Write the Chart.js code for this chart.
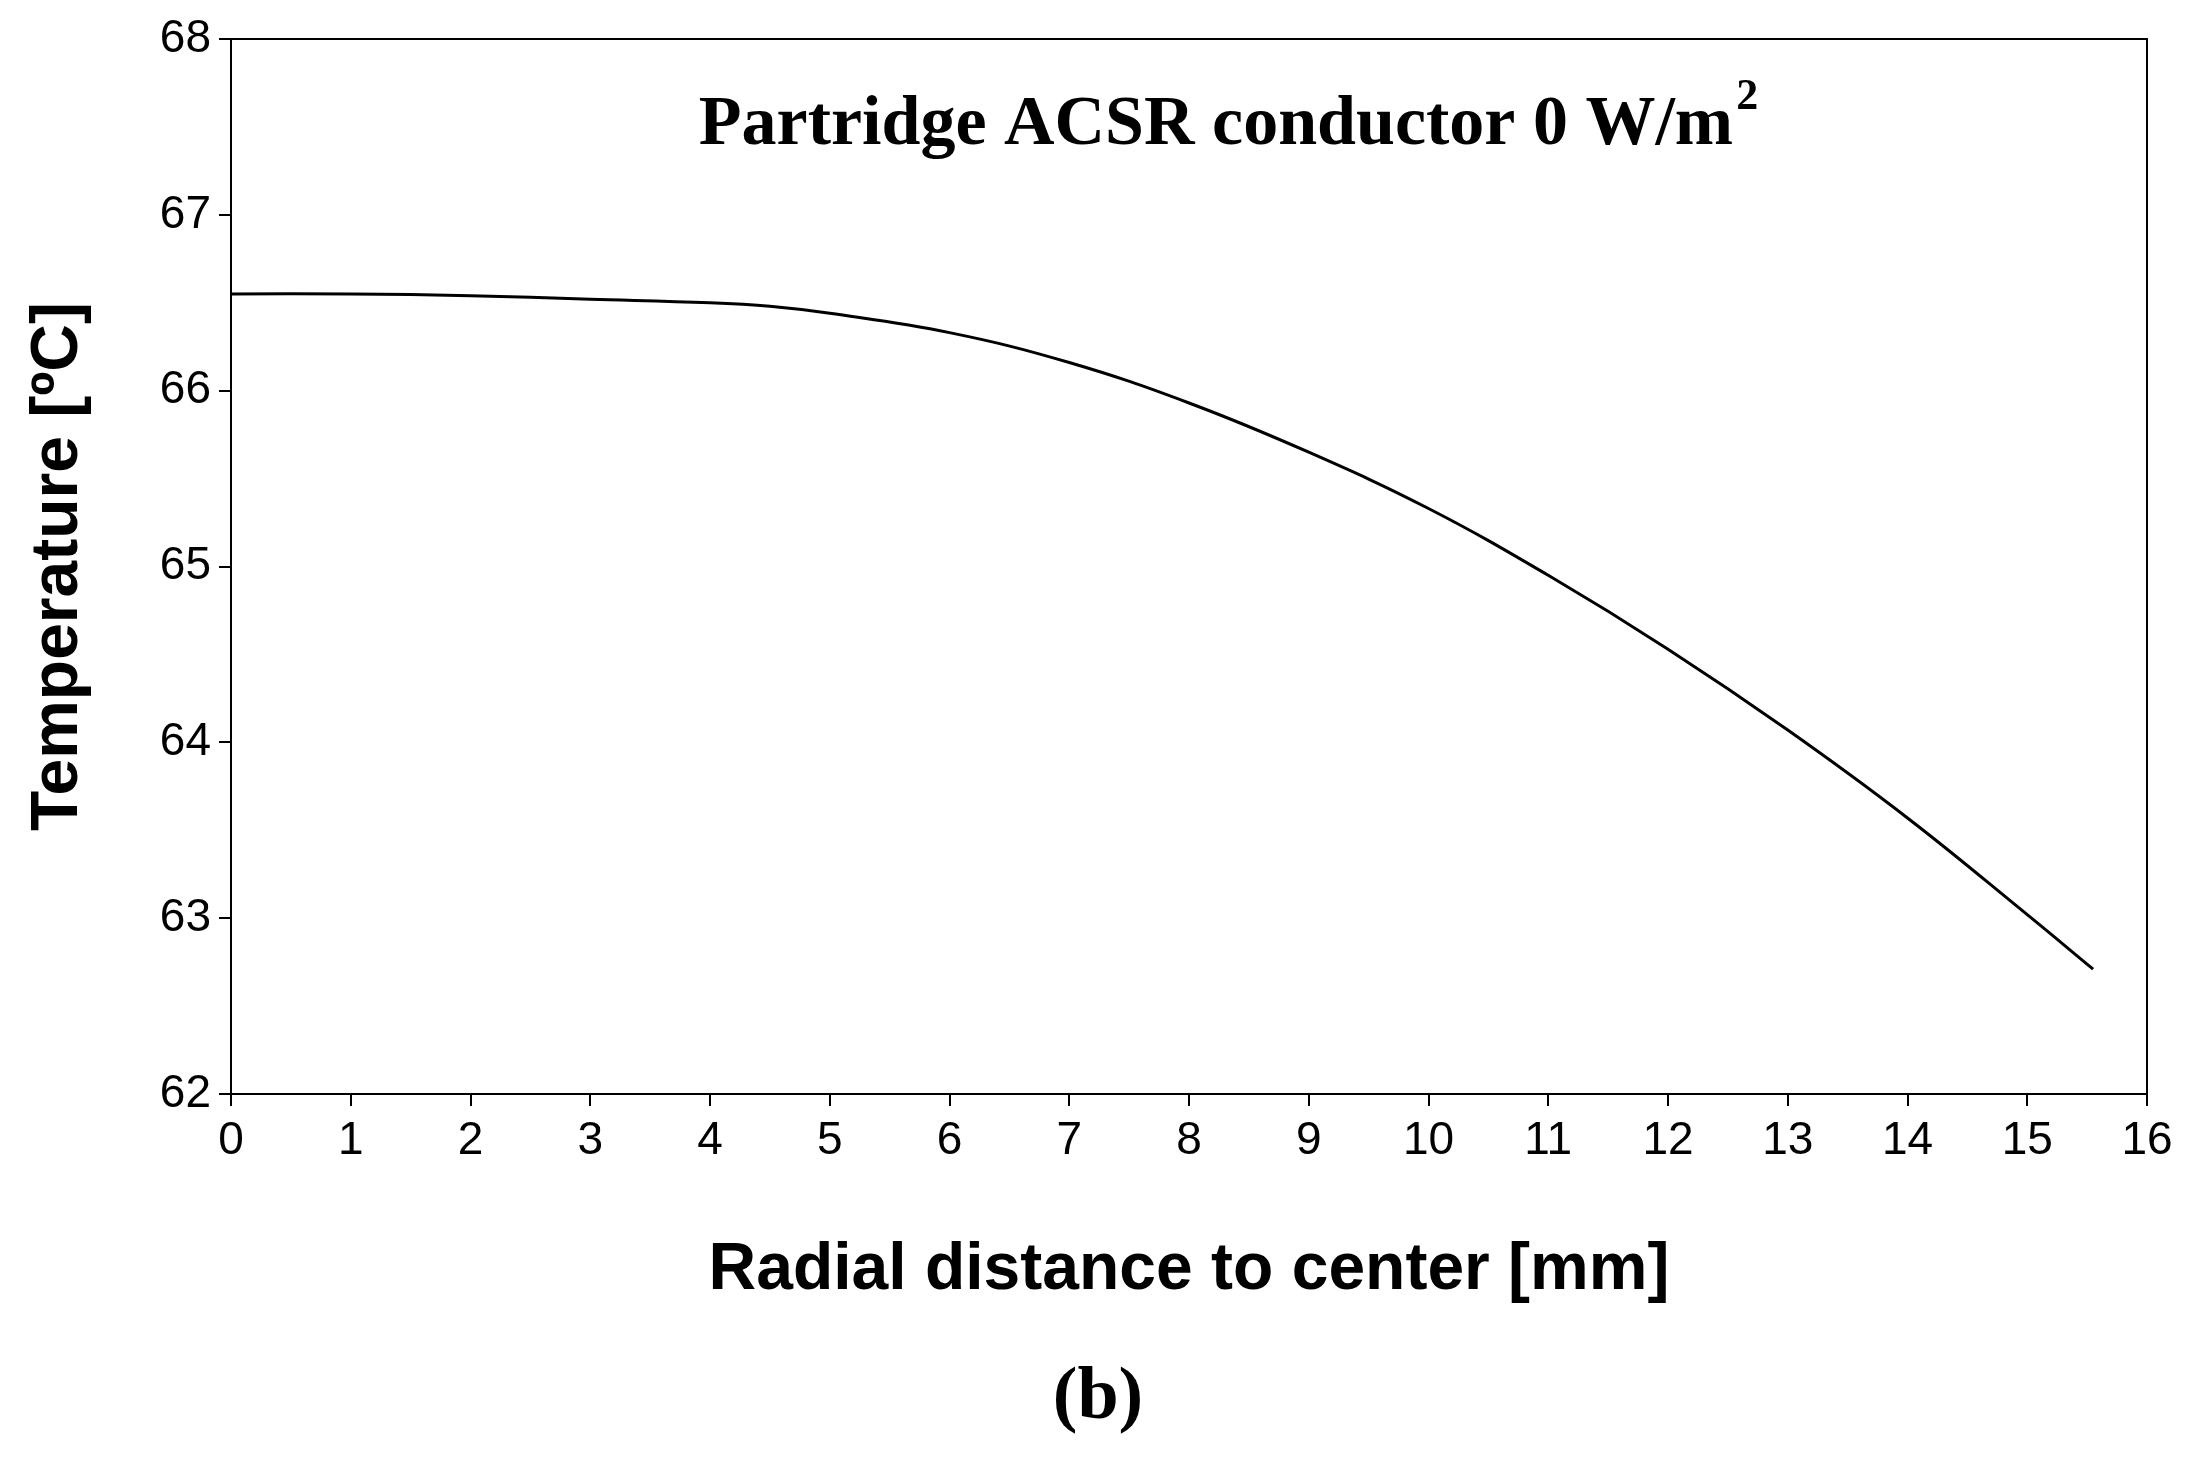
<!DOCTYPE html>
<html>
<head>
<meta charset="utf-8">
<script src="https://cdn.jsdelivr.net/npm/chart.js@4"></script>
<style>
  body { margin: 0; background: #fff; }
  canvas { display: block; }
</style>
</head>
<body>
<canvas id="myChart" width="2193" height="1457"></canvas>
<script>
// datos
const radios = [0, 1, 2, 3, 4, 4.5, 5, 6, 7, 8, 9, 10, 11, 12, 13, 14, 15, 15.55];
const temperaturas = [66.55, 66.55, 66.54, 66.52, 66.5, 66.48, 66.44, 66.33, 66.16, 65.93, 65.65, 65.33, 64.95, 64.53, 64.07, 63.57, 63.02, 62.71];
const tituloGrafico = 'Partridge ACSR conductor 0 W/m';

// textos extra: titulo dentro del area y etiqueta (b)
const textosPlugin = {
    id: 'textos',
    afterDraw(chart) {
        const ctx = chart.ctx;
        ctx.save();
        ctx.fillStyle = '#000';
        ctx.textBaseline = 'middle';
        ctx.font = 'bold 70px "Liberation Serif", serif';
        const w = ctx.measureText(tituloGrafico).width;
        const x0 = 1231 - (w + 30) / 2;
        ctx.textAlign = 'left';
        ctx.fillText(tituloGrafico, x0, 126);
        ctx.font = 'bold 44px "Liberation Serif", serif';
        ctx.fillText('2', x0 + w + 3, 98);
        ctx.font = 'bold 74px "Liberation Serif", serif';
        ctx.textAlign = 'center';
        ctx.fillText('(b)', 1098, 1399);
        ctx.restore();
    }
};

const ctx = document.getElementById('myChart').getContext('2d');
window.myLineChart = new Chart(ctx, {
    type: 'line',
    data: {
        datasets: [{
            data: radios.map((r, i) => ({x: r, y: temperaturas[i]})),
            borderColor: '#000',
            borderWidth: 3,
            pointRadius: 0,
            tension: 0.4,
            fill: false
        }]
    },
    options: {
        responsive: false,
        animation: false,
        layout: { padding: { left: 19, right: 46, top: 39, bottom: 147 } },
        plugins: { legend: { display: false }, tooltip: { enabled: false } },
        scales: {
            x: {
                type: 'linear', min: 0, max: 16,
                ticks: { stepSize: 1, color: '#000', padding: 8, maxRotation: 0,
                    font: { family: '"Liberation Sans", Arial', size: 46 } },
                grid: { display: true, drawOnChartArea: false, tickLength: 12, color: '#000', lineWidth: 2 },
                border: { color: '#000', width: 2 },
                title: { display: true, text: 'Radial distance to center [mm]', color: '#000',
                    padding: 0, font: { family: '"Liberation Sans", Arial', size: 66, weight: 'bold' } },
                afterFit: (s) => { s.height = 216; }
            },
            y: {
                min: 62, max: 68,
                ticks: { stepSize: 1, color: '#000', padding: 8,
                    font: { family: '"Liberation Sans", Arial', size: 46 } },
                grid: { display: true, drawOnChartArea: false, tickLength: 12, color: '#000', lineWidth: 2 },
                border: { color: '#000', width: 2 },
                title: { display: true, text: 'Temperature [ºC]', color: '#000',
                    padding: 0, font: { family: '"Liberation Sans", Arial', size: 66, weight: 'bold' } },
                afterFit: (s) => { s.width = 212; }
            },
            x2: {
                type: 'linear', position: 'top', min: 0, max: 16,
                ticks: { display: false }, grid: { display: false },
                border: { color: '#000', width: 2 },
                afterFit: (s) => { s.height = 0; }
            },
            y2: {
                position: 'right', min: 62, max: 68,
                ticks: { display: false }, grid: { display: false },
                border: { color: '#000', width: 2 },
                afterFit: (s) => { s.width = 0; }
            }
        }
    },
    plugins: [textosPlugin]
});
</script>
</body>
</html>
